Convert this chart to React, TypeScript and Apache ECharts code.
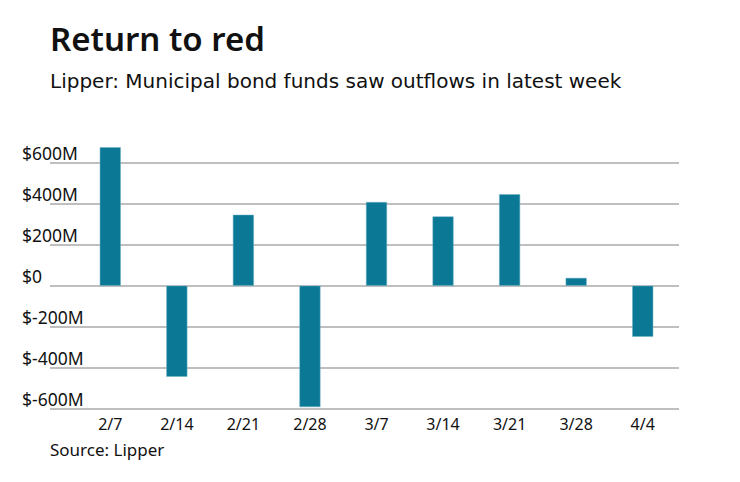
import React, { useEffect, useRef } from "react";
import * as echarts from "echarts";

const categories = ["2/7", "2/14", "2/21", "2/28", "3/7", "3/14", "3/21", "3/28", "4/4"];
const flows = [675, -444, 346, -592, 408, 338, 446, 38, -249];
const yTicks = [-600, -400, -200, 0, 200, 400, 600];

const FONT = "'Noto Sans', sans-serif";
const WIDE = "'DejaVu Sans', sans-serif";

function fmt(v: number): string {
  return v === 0 ? "$0" : "$" + v + "M";
}

export default function App() {
  const ref = useRef<HTMLDivElement>(null);
  useEffect(() => {
    const chart = echarts.init(ref.current!, null, { renderer: "svg" });
    const yMin = yTicks[0];
    const yMax = yTicks[yTicks.length - 1];
    chart.setOption({
      animation: false,
      backgroundColor: "#ffffff",
      graphic: [
        {
          type: "text",
          left: 50,
          top: 22,
          style: { text: "Return to red", font: `600 33px ${FONT}`, fill: "#111111" },
        },
        {
          type: "text",
          left: 50,
          top: 71,
          style: {
            text: "Lipper: Municipal bond funds saw outflows in latest week",
            font: `20px ${WIDE}`,
            fill: "#111111",
          },
        },
        {
          type: "text",
          left: 50,
          top: 441,
          style: { text: "Source: Lipper", font: `17px ${FONT}`, fill: "#111111" },
        },
      ],
      grid: [
        { left: 50, right: 61, top: 162.7, bottom: 73.3 },
        { left: 77, right: 64, top: 162.7, bottom: 73.3 },
      ],
      xAxis: [
        { type: "category", gridIndex: 0, data: categories, show: false },
        {
          type: "category",
          gridIndex: 1,
          data: categories,
          axisLine: { show: false },
          axisTick: { show: false },
          axisLabel: { color: "#111111", fontSize: 16, fontFamily: FONT, margin: 7 },
        },
      ],
      yAxis: [
        {
          type: "value",
          gridIndex: 0,
          min: yMin,
          max: yMax,
          interval: 200,
          axisLine: { show: false },
          axisTick: { show: false },
          splitLine: { lineStyle: { color: "#aaaaaa", width: 1.5 } },
          axisLabel: {
            formatter: fmt,
            align: "left",
            verticalAlign: "bottom",
            margin: 28,
            padding: [0, 0, 1, 0],
            color: "#111111",
            fontSize: 17.5,
            fontFamily: FONT,
          },
        },
        {
          type: "value",
          gridIndex: 1,
          min: yMin,
          max: yMax,
          interval: 200,
          show: false,
        },
      ],
      series: [
        {
          type: "bar",
          xAxisIndex: 1,
          yAxisIndex: 1,
          data: flows,
          barWidth: 21,
          clip: false,
          itemStyle: { color: "#0b7896", borderColor: "#6fb3c6", borderWidth: 0.5 },
        },
      ],
    });
    return () => chart.dispose();
  }, []);
  return (
    <div
      ref={ref}
      style={{ position: "fixed", left: 0, top: 0, width: 740, height: 482 }}
    />
  );
}
